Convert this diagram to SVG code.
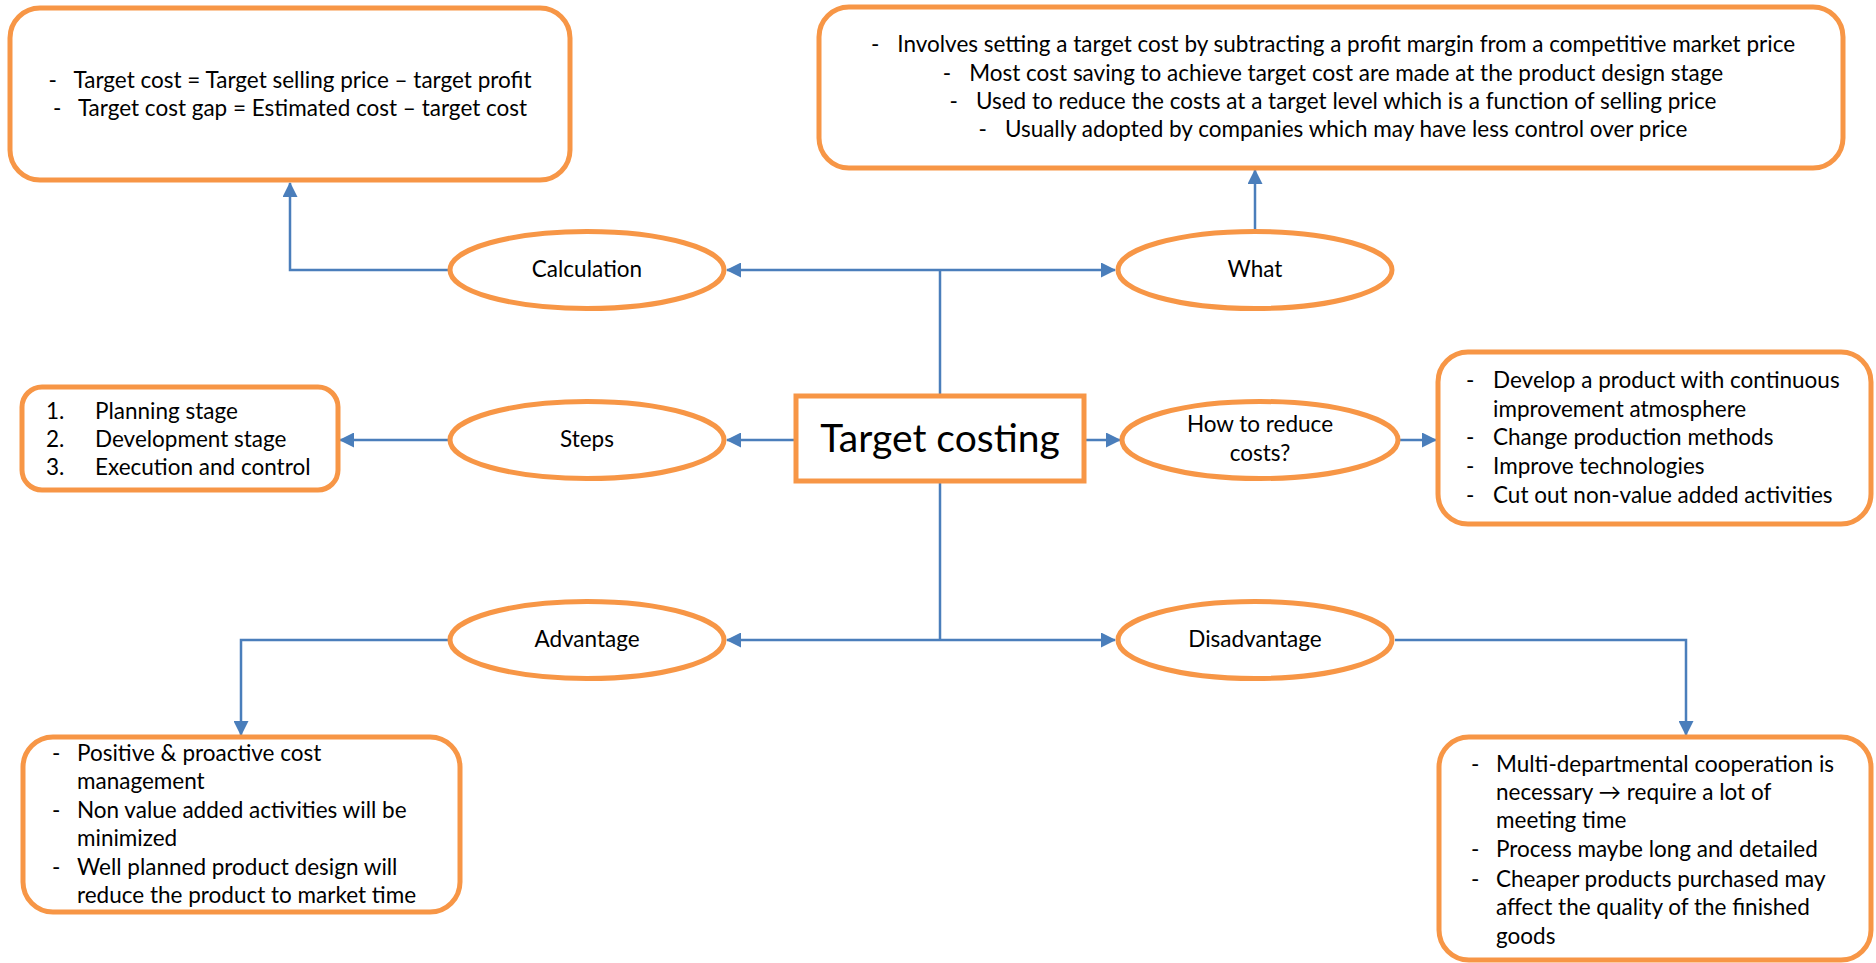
<svg xmlns="http://www.w3.org/2000/svg" width="1876" height="963" viewBox="0 0 1876 963">
<style>
  .box{fill:#fff;stroke:#F79646;stroke-width:5}
  .ell{fill:#fff;stroke:#F79646;stroke-width:5}
  .t{font-family:Lato,'Liberation Sans',sans-serif;font-size:22.5px;fill:#000}
  .c{text-anchor:middle}
  .big{font-family:Lato,'Liberation Sans',sans-serif;font-size:39px;fill:#000;text-anchor:middle}
  .ln{fill:none;stroke:#4A7EBB;stroke-width:2.5}
  .ar{marker-end:url(#ah)}
</style>
<defs>
  <marker id="ah" markerUnits="userSpaceOnUse" markerWidth="15" markerHeight="15" refX="14" refY="7.5" orient="auto">
    <path d="M0,0 L15,7.5 L0,15 z" fill="#4A7EBB"/>
  </marker>
</defs>
<rect width="1876" height="963" fill="#fff"/>

<g id="connectors">
  <path class="ln" d="M940,396 V270"/>
  <path class="ln ar" d="M940,270 H727"/>
  <path class="ln ar" d="M940,270 H1115"/>
  <path class="ln" d="M940,481 V640"/>
  <path class="ln ar" d="M940,640 H727"/>
  <path class="ln ar" d="M940,640 H1115"/>
  <path class="ln ar" d="M795,440 H727"/>
  <path class="ln ar" d="M1085,440 H1120"/>
  <path class="ln ar" d="M1400,440 H1436"/>
  <path class="ln ar" d="M449,270 H290 V183"/>
  <path class="ln ar" d="M1255,231 V170"/>
  <path class="ln ar" d="M449,440 H340"/>
  <path class="ln ar" d="M449,640 H241 V735"/>
  <path class="ln ar" d="M1395,640 H1686 V735"/>
</g>

<g id="center">
  <rect class="box" x="796" y="396" width="288" height="85"/>
  <text class="big" x="940" y="452">Target costing</text>
</g>

<g id="calculation">
  <ellipse class="ell" cx="587" cy="270" rx="137" ry="38.5"/>
  <text class="t c" x="587" y="277">Calculation</text>
</g>
<g id="what">
  <ellipse class="ell" cx="1255" cy="270" rx="137" ry="38.5"/>
  <text class="t c" x="1255" y="277">What</text>
</g>
<g id="steps">
  <ellipse class="ell" cx="587" cy="440" rx="137" ry="38.5"/>
  <text class="t c" x="587" y="447">Steps</text>
</g>
<g id="howto">
  <ellipse class="ell" cx="1260" cy="440" rx="138" ry="38.5"/>
  <text class="t c" x="1260" y="432">How to reduce</text>
  <text class="t c" x="1260" y="461">costs?</text>
</g>
<g id="advantage">
  <ellipse class="ell" cx="587" cy="640" rx="137" ry="38.5"/>
  <text class="t c" x="587" y="647">Advantage</text>
</g>
<g id="disadvantage">
  <ellipse class="ell" cx="1255" cy="640" rx="137" ry="38.5"/>
  <text class="t c" x="1255" y="647">Disadvantage</text>
</g>

<g id="calc-box">
  <rect class="box" x="10" y="8" width="560" height="172" rx="30"/>
  <text class="t c" x="290" y="88">-<tspan dx="18">Target cost = Target selling price – target profit</tspan></text>
  <text class="t c" x="290" y="116">-<tspan dx="18">Target cost gap = Estimated cost – target cost</tspan></text>
</g>

<g id="what-box">
  <rect class="box" x="819" y="7" width="1024" height="161" rx="30"/>
  <text class="t c" x="1333" y="52">-<tspan dx="18">Involves setting a target cost by subtracting a profit margin from a competitive market price</tspan></text>
  <text class="t c" x="1333" y="81">-<tspan dx="18">Most cost saving to achieve target cost are made at the product design stage</tspan></text>
  <text class="t c" x="1333" y="109">-<tspan dx="18">Used to reduce the costs at a target level which is a function of selling price</tspan></text>
  <text class="t c" x="1333" y="137">-<tspan dx="18">Usually adopted by companies which may have less control over price</tspan></text>
</g>

<g id="steps-box">
  <rect class="box" x="22" y="387" width="316" height="103" rx="20"/>
  <text class="t" x="46" y="419">1.</text><text class="t" x="95" y="419">Planning stage</text>
  <text class="t" x="46" y="447">2.</text><text class="t" x="95" y="447">Development stage</text>
  <text class="t" x="46" y="475">3.</text><text class="t" x="95" y="475">Execution and control</text>
</g>

<g id="howto-box">
  <rect class="box" x="1438" y="352" width="433" height="172" rx="30"/>
  <text class="t" x="1466" y="388">-</text><text class="t" x="1493" y="388">Develop a product with continuous</text>
  <text class="t" x="1493" y="417">improvement atmosphere</text>
  <text class="t" x="1466" y="445">-</text><text class="t" x="1493" y="445">Change production methods</text>
  <text class="t" x="1466" y="474">-</text><text class="t" x="1493" y="474">Improve technologies</text>
  <text class="t" x="1466" y="503">-</text><text class="t" x="1493" y="503">Cut out non-value added activities</text>
</g>

<g id="advantage-box">
  <rect class="box" x="23" y="737" width="437" height="175" rx="30"/>
  <text class="t" x="52" y="761">-</text><text class="t" x="77" y="761">Positive &amp; proactive cost</text>
  <text class="t" x="77" y="789">management</text>
  <text class="t" x="52" y="818">-</text><text class="t" x="77" y="818">Non value added activities will be</text>
  <text class="t" x="77" y="846">minimized</text>
  <text class="t" x="52" y="875">-</text><text class="t" x="77" y="875">Well planned product design will</text>
  <text class="t" x="77" y="903">reduce the product to market time</text>
</g>

<g id="disadvantage-box">
  <rect class="box" x="1439" y="737" width="432" height="223" rx="30"/>
  <text class="t" x="1471" y="772">-</text><text class="t" x="1496" y="772">Multi-departmental cooperation is</text>
  <text class="t" x="1496" y="800">necessary → require a lot of</text>
  <text class="t" x="1496" y="828">meeting time</text>
  <text class="t" x="1471" y="857">-</text><text class="t" x="1496" y="857">Process maybe long and detailed</text>
  <text class="t" x="1471" y="887">-</text><text class="t" x="1496" y="887">Cheaper products purchased may</text>
  <text class="t" x="1496" y="915">affect the quality of the finished</text>
  <text class="t" x="1496" y="944">goods</text>
</g>
</svg>
